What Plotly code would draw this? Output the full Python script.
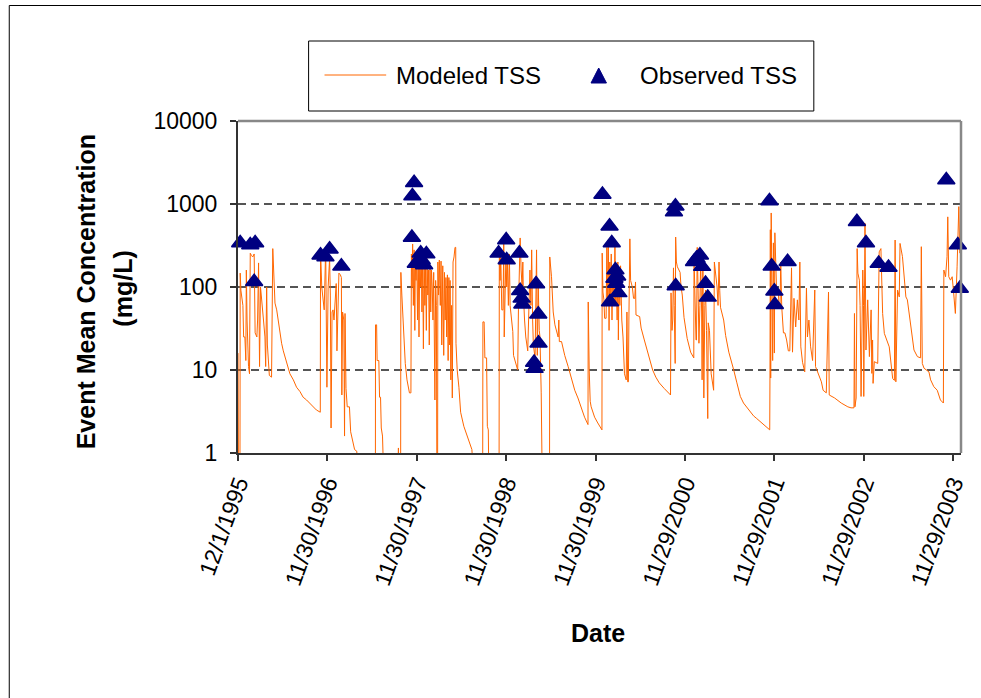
import pandas as pd
import plotly.graph_objects as go

# ---------------- data ----------------
start_date = "1995-12-01"

model_day = [
    0, 2, 8, 9, 12, 16, 20, 23, 28, 32, 34, 37, 43, 47, 50, 55, 60, 66, 70, 77, 80, 84, 88, 92, 97, 101, 104, 110, 113, 117, 120, 128, 137, 142, 146, 151, 158, 165, 172, 178, 185, 199, 212, 226, 239, 253, 266, 280, 293, 307, 320, 336, 337, 342, 352, 358, 361, 363, 368, 374, 377, 380, 384, 388, 392, 401, 404, 408, 412, 418, 422, 424, 427, 432, 435, 437, 441, 446, 455, 460, 470, 476, 485, 489,
    561, 561.5, 566, 568, 575, 578, 582, 585, 590, 595,
    652, 655, 657, 664, 665, 669, 676, 683, 690, 700, 706,
    708, 711, 713, 716, 719, 722, 724, 727, 730, 733, 736, 739, 742, 745, 748, 751, 754, 757, 760, 763, 766, 769, 772, 775, 778, 781, 784, 787, 790, 793, 796, 799, 802, 804, 807, 810, 812, 815, 816, 819, 822, 826, 829, 832, 836, 840, 843, 846, 849, 852, 855, 858, 861, 864, 866, 869, 872, 875, 878, 882, 886, 889, 890, 895, 902, 909, 922, 936, 949, 955, 962,
    999, 1000, 1005, 1008, 1015, 1018, 1022, 1024,
    1066, 1067, 1070, 1073, 1077, 1082, 1085, 1087, 1091, 1094, 1097, 1100, 1104, 1108, 1111, 1115, 1122, 1125, 1135, 1142, 1145, 1149, 1152, 1156, 1160, 1163, 1165, 1170, 1175, 1183, 1186, 1192, 1196, 1199, 1203, 1206, 1213, 1216, 1219, 1222, 1226, 1230, 1233, 1238, 1242,
    1272, 1273, 1280, 1285, 1287, 1294, 1300, 1307, 1310, 1312, 1321, 1334, 1348, 1361, 1375, 1388, 1402, 1415, 1429, 1430, 1434, 1438, 1442, 1456, 1469, 1486,
    1487, 1490, 1494, 1497, 1503, 1506, 1509, 1512, 1515, 1518, 1521, 1524, 1527, 1530, 1533, 1536, 1539, 1542, 1545, 1548, 1551, 1553, 1556, 1559, 1562, 1564, 1567, 1572, 1578, 1585, 1588, 1591, 1594, 1596, 1600, 1603, 1610, 1615, 1620, 1623, 1625, 1640, 1646, 1659, 1672, 1686, 1693, 1706, 1720, 1740, 1766,
    1768, 1772, 1775, 1778, 1781, 1785, 1787, 1790, 1794, 1805, 1809, 1814, 1821, 1834, 1848, 1861, 1862, 1866, 1870, 1872, 1875, 1879, 1882, 1886, 1889, 1893, 1895, 1898, 1900, 1902, 1906, 1909, 1913, 1918, 1920, 1925, 1932, 1936, 1942, 1945, 1950, 1956, 1960, 1964, 1967, 1970, 1983, 1991, 2004, 2012, 2024, 2037, 2051, 2064, 2079, 2091, 2105, 2118, 2132, 2145, 2160, 2171,
    2172, 2173.5, 2175, 2177, 2179, 2183, 2186, 2188, 2190, 2192, 2196, 2199, 2206, 2209, 2213, 2216, 2220, 2227, 2233, 2240, 2247, 2253, 2260, 2264, 2270, 2277, 2284, 2290, 2294, 2298, 2305, 2314, 2321, 2325, 2331, 2338, 2346, 2355, 2358, 2368, 2382, 2389, 2402, 2411, 2414, 2436, 2463, 2490,
    2503, 2515, 2517, 2519, 2524, 2528, 2531, 2537, 2540, 2544, 2551, 2554, 2555, 2560, 2564, 2571, 2578, 2585, 2588, 2591, 2593, 2598, 2612, 2618, 2625, 2632, 2639, 2659, 2666, 2673, 2680, 2683, 2686, 2693, 2700, 2703, 2713, 2720, 2727, 2733, 2740, 2747, 2760, 2774, 2787, 2790, 2794, 2801, 2821, 2828, 2841, 2855, 2868, 2880, 2882, 2889, 2895, 2898, 2902, 2909, 2916, 2922, 2929, 2936, 2943, 2947, 2950,
]
model_tss = [
    16, 0.5, 0.5, 147, 90, 76, 60, 25, 25, 13, 160, 40, 11, 9, 255, 240, 230, 250, 28, 25, 40, 195, 11, 100, 60, 43, 40, 25, 11, 100, 20, 8.6, 8.2, 290, 133, 64, 53, 37, 25, 21, 17, 12, 9, 7.6, 6.2, 5.5, 4.7, 4.35, 4, 3.6, 3.3, 3.1, 280, 100, 53, 300, 60, 6.2, 100, 220, 80, 2, 50, 53, 40, 110, 17, 60, 147, 140, 130, 5, 50, 40, 1.6, 48, 6, 3.6, 3.6, 1.8, 1.3, 1.1, 1.05, 0.5,
    0.5, 35, 35, 13, 13, 4.7, 4.7, 2, 1.6, 0.5,
    0.5, 1.15, 0.5, 0.5, 150, 80, 28, 12, 7.6, 5.3, 5.3,
    250, 100, 330, 60, 280, 30, 200, 120, 250, 40, 260, 25, 200, 100, 300, 50, 220, 18, 250, 60, 180, 30, 220, 80, 160, 20, 180, 50, 160, 100, 40, 150, 10, 4.35, 120, 60, 0.5, 0.5, 200, 80, 211, 60, 205, 20, 180, 15, 150, 40, 130, 25, 140, 13, 130, 20, 120, 7.6, 60, 4.6, 200, 230, 300, 300, 21, 10, 6.2, 3.1, 2.1, 1.56, 1.2, 1.1, 0.5,
    0.5, 38, 38, 14, 14, 2.1, 1.9, 0.5,
    0.5, 300, 120, 230, 53, 53, 340, 25, 100, 250, 100, 200, 60, 250, 60, 48, 29, 15, 12, 10, 53, 200, 390, 160, 100, 200, 85, 40, 25, 17, 50, 160, 60, 280, 40, 20, 14, 150, 280, 15, 100, 30, 25, 5.3, 0.5,
    0.5, 230, 133, 60, 50, 35, 30, 25, 40, 22, 22, 15, 11, 8, 5.7, 4.6, 3.4, 2.7, 2.2, 66, 10, 4.2, 3.6, 2.7, 2.3, 1.9,
    256, 87, 70, 42, 42, 300, 60, 370, 30, 200, 80, 250, 40, 160, 100, 60, 340, 60, 140, 40, 200, 23, 150, 60, 180, 60, 40, 25, 9, 7.6, 50, 7.2, 7.2, 40, 380, 120, 100, 73, 73, 115, 46, 44, 32, 23, 17, 12.4, 10, 8.2, 7, 6, 5,
    85, 30, 40, 170, 60, 12, 400, 200, 175, 150, 100, 80, 43, 24, 16.4, 14, 230, 60, 23, 23, 300, 80, 21, 60, 211, 50, 7.6, 250, 40, 4.6, 60, 92, 30, 2.6, 37, 30, 9, 7.6, 5.7, 200, 140, 100, 60, 200, 90, 57, 40, 26, 16.4, 13, 10, 7, 4.8, 4, 3.5, 3.1, 2.8, 2.6, 2.4, 2.2, 2, 1.9,
    8, 490, 8, 780, 100, 13, 340, 100, 16, 450, 150, 92, 92, 56, 56, 200, 58, 28, 28, 23, 17, 17, 170, 16.4, 73, 33, 70, 40, 200, 19, 12.4, 9.5, 97, 25, 40, 19, 13, 92, 11, 9, 7.2, 5.7, 5.3, 87, 5, 4.6, 4, 3.6,
    3.5, 3.5, 48, 3.6, 4.6, 290, 147, 121, 60, 4.8, 160, 60, 4.8, 585, 17.4, 70, 14.5, 53, 9.1, 23, 6.9, 12.6, 12, 265, 290, 48, 27.6, 19, 11, 7.9, 7.5, 368, 7.2, 92, 76, 335, 232, 121, 76, 70, 48, 36.6, 17.4, 14.5, 14, 306, 12, 10.5, 9.5, 7.6, 6.3, 5.7, 4.35, 4, 160, 133, 232, 700, 133, 121, 133, 85, 48, 175, 930, 257, 257,
]

obs_day = [9, 50, 66, 70, 337, 357, 374, 422, 710, 712, 719, 726, 746, 750, 760, 769,
           1064, 1095, 1097, 1149, 1152, 1158, 1161, 1209, 1211, 1217, 1226, 1227,
           1488, 1517, 1519, 1526, 1537, 1541, 1544, 1548, 1553,
           1780, 1786, 1787, 1862, 1872, 1886, 1895, 1909, 1918,
           2170, 2179, 2190, 2192, 2244, 2527, 2564, 2616, 2656, 2892, 2939, 2947]
obs_tss = [340, 320, 116, 340, 242, 230, 285, 178, 395, 1250, 1800, 192, 255, 211, 184, 250,
           255, 368, 211, 255, 90, 73, 62, 12.3, 10.4, 109, 47, 21,
           1300, 540, 66, 340, 127, 160, 110, 135, 85,
           800, 940, 103, 202, 221, 242, 176, 110, 75,
           1090, 178, 89, 61, 202, 610, 340, 192, 172, 1950, 320, 96]

tick_day = [0, 365, 730, 1095, 1460, 1825, 2190, 2555, 2920]
tick_text = ["12/1/1995", "11/30/1996", "11/30/1997", "11/30/1998", "11/30/1999",
             "11/29/2000", "11/29/2001", "11/29/2002", "11/29/2003"]
axis_end_day = 2952
y_ticks = [1, 10, 100, 1000, 10000]

# ---------------- figure ----------------
base = pd.Timestamp(start_date)
to_date = lambda days: [base + pd.Timedelta(days=float(d)) for d in days]

FONT = "Liberation Sans, Arial, sans-serif"
W, H = 981, 698
L, R, T, B = 238, 16, 121, 245
PW, PH = W - L - R, H - T - B


def px(xp):
    return (xp - L) / PW


def py(yp):
    return (H - B - yp) / PH


fig = go.Figure()
fig.add_trace(go.Scatter(
    x=to_date(model_day), y=model_tss, mode="lines", name="Modeled TSS",
    line=dict(color="#FF6600", width=1), showlegend=False, hoverinfo="skip"))
fig.add_trace(go.Scatter(
    x=to_date(obs_day), y=obs_tss, mode="markers", name="Observed TSS",
    marker=dict(symbol="triangle-up", size=15, color="#000080",
                line=dict(color="#000080", width=1.5)),
    showlegend=False, cliponaxis=False))

shapes = [
    # plot-area top and right borders
    dict(type="line", xref="paper", yref="paper", x0=0, x1=1, y0=1, y1=1,
         line=dict(color="#888888", width=2.5)),
    dict(type="line", xref="paper", yref="paper", x0=1, x1=1, y0=0, y1=1,
         line=dict(color="#888888", width=2.5)),
    # outer chart border
    dict(type="rect", xref="paper", yref="paper", x0=px(8), x1=px(1010),
         y0=py(730), y1=py(5.5), line=dict(color="black", width=1)),
    # legend box
    dict(type="rect", xref="paper", yref="paper", x0=px(309), x1=px(817),
         y0=py(111), y1=py(41), line=dict(color="black", width=1)),
    # legend line sample
    dict(type="line", xref="paper", yref="paper", x0=px(325), x1=px(387),
         y0=py(75), y1=py(75), line=dict(color="#FF6600", width=1)),
    # legend triangle
    dict(type="path", xref="paper", yref="paper",
         path=f"M {px(593)},{py(83)} L {px(608.5)},{py(83)} L {px(600.7)},{py(68)} Z",
         fillcolor="#000080", line=dict(color="#000080", width=1)),
]

annotations = [
    dict(text="Modeled TSS", x=px(395), y=py(75), xref="paper", yref="paper",
         xanchor="left", yanchor="middle", showarrow=False,
         font=dict(family=FONT, size=24, color="black")),
    dict(text="Observed TSS", x=px(640), y=py(75), xref="paper", yref="paper",
         xanchor="left", yanchor="middle", showarrow=False,
         font=dict(family=FONT, size=24, color="black")),
    dict(text="<b>Event Mean Concentration</b>", x=px(85), y=py(291.5),
         xref="paper", yref="paper", xanchor="center", yanchor="middle",
         textangle=-90, showarrow=False, font=dict(family=FONT, size=25, color="black")),
    dict(text="<b>(mg/L)</b>", x=px(122), y=py(289), xref="paper", yref="paper",
         xanchor="center", yanchor="middle", textangle=-90, showarrow=False,
         font=dict(family=FONT, size=25, color="black")),
    dict(text="<b>Date</b>", x=px(600), y=py(633), xref="paper", yref="paper",
         xanchor="center", yanchor="middle", showarrow=False,
         font=dict(family=FONT, size=25, color="black")),
]

fig.update_layout(
    width=W, height=H,
    margin=dict(l=L, r=R, t=T, b=B, pad=0),
    paper_bgcolor="white", plot_bgcolor="white",
    font=dict(family=FONT, size=23, color="black"),
    shapes=shapes, annotations=annotations, showlegend=False,
)
fig.update_xaxes(
    type="date", range=[base, base + pd.Timedelta(days=axis_end_day)],
    tickvals=to_date(tick_day), ticktext=tick_text, tickangle=-70,
    ticks="outside", ticklen=6, tickwidth=1.5, tickcolor="#333333",
    showline=True, linecolor="#333333", linewidth=2, showgrid=False,
    zeroline=False, tickfont=dict(family=FONT, size=23, color="black"),
)
fig.update_yaxes(
    type="log", range=[0, 4], tickvals=y_ticks, ticktext=[str(v) for v in y_ticks],
    ticks="outside", ticklen=6, tickwidth=1.5, tickcolor="#333333",
    ticklabelstandoff=8,
    showline=True, linecolor="#333333", linewidth=2,
    showgrid=True, gridcolor="#555555", gridwidth=1.5, griddash="8px,5px",
    zeroline=False, tickfont=dict(family=FONT, size=23, color="black"),
)

fig.write_html(
    "out.html",
    config={"displayModeBar": False},
    post_script="document.body.style.margin='0px';document.body.style.overflow='hidden';",
)
